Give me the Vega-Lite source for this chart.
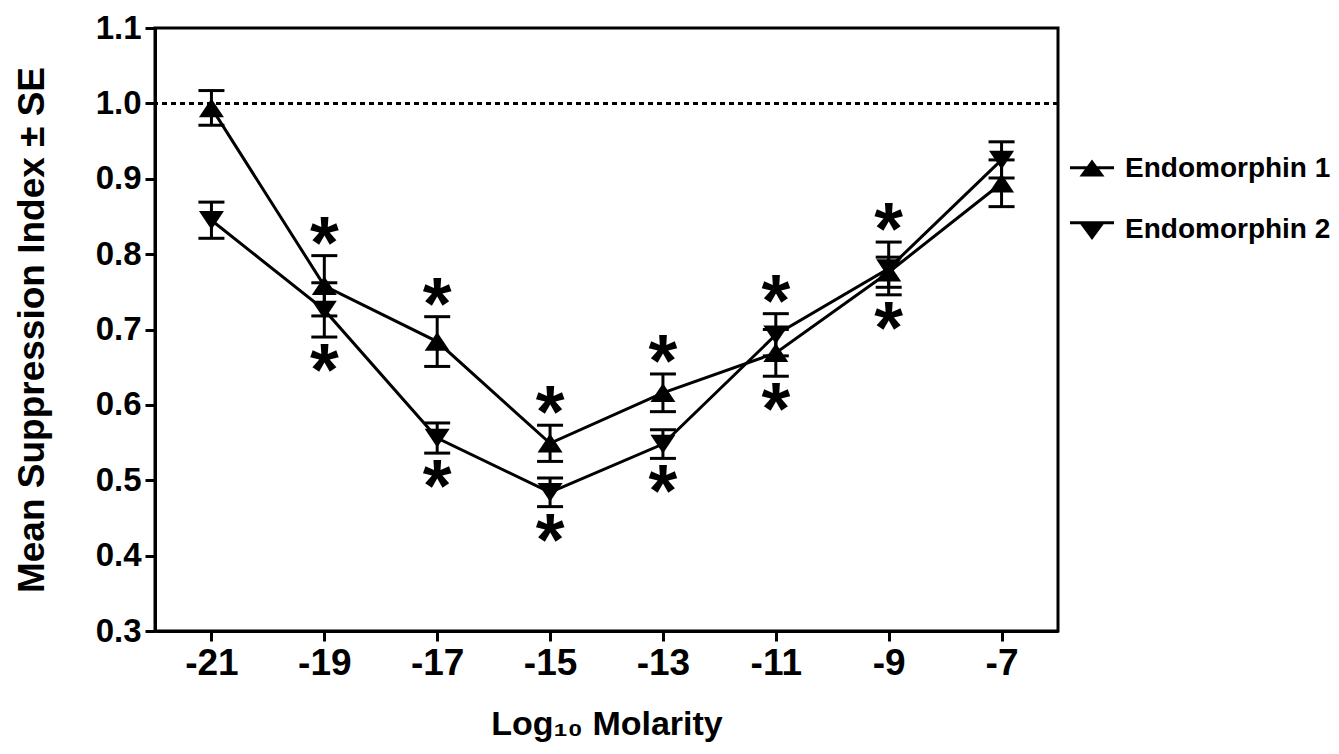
{
  "$schema": "https://vega.github.io/schema/vega-lite/v6.json",
  "autosize": "none",
  "width": 903,
  "height": 603,
  "padding": {"left": 155, "top": 28, "right": 281, "bottom": 123},
  "background": "white",
  "config": {
    "view": {"stroke": "black", "strokeWidth": 3},
    "font": "Liberation Sans",
    "axis": {"grid": false, "domainColor": "black", "domainWidth": 3, "tickColor": "black", "tickWidth": 3, "tickSize": 10, "labelColor": "black", "labelFont": "Liberation Sans", "labelFontWeight": "bold", "titleFont": "Liberation Sans", "titleFontWeight": "bold", "titleColor": "black"}
  },
  "data": {"values": [
    {"molarity": -21, "series": "Endomorphin 1", "mean": 0.994, "lo": 0.971, "hi": 1.017, "sig": ""},
    {"molarity": -19, "series": "Endomorphin 1", "mean": 0.758, "lo": 0.718, "hi": 0.798, "sig": "*"},
    {"molarity": -17, "series": "Endomorphin 1", "mean": 0.684, "lo": 0.651, "hi": 0.717, "sig": "*"},
    {"molarity": -15, "series": "Endomorphin 1", "mean": 0.549, "lo": 0.525, "hi": 0.573, "sig": "*"},
    {"molarity": -13, "series": "Endomorphin 1", "mean": 0.616, "lo": 0.591, "hi": 0.641, "sig": "*"},
    {"molarity": -11, "series": "Endomorphin 1", "mean": 0.669, "lo": 0.638, "hi": 0.700, "sig": "*"},
    {"molarity": -9, "series": "Endomorphin 1", "mean": 0.776, "lo": 0.756, "hi": 0.796, "sig": "*"},
    {"molarity": -7, "series": "Endomorphin 1", "mean": 0.894, "lo": 0.863, "hi": 0.925, "sig": ""},
    {"molarity": -21, "series": "Endomorphin 2", "mean": 0.845, "lo": 0.821, "hi": 0.869, "sig": ""},
    {"molarity": -19, "series": "Endomorphin 2", "mean": 0.726, "lo": 0.690, "hi": 0.762, "sig": "*"},
    {"molarity": -17, "series": "Endomorphin 2", "mean": 0.556, "lo": 0.536, "hi": 0.576, "sig": "*"},
    {"molarity": -15, "series": "Endomorphin 2", "mean": 0.484, "lo": 0.465, "hi": 0.503, "sig": "*"},
    {"molarity": -13, "series": "Endomorphin 2", "mean": 0.548, "lo": 0.529, "hi": 0.567, "sig": "*"},
    {"molarity": -11, "series": "Endomorphin 2", "mean": 0.693, "lo": 0.665, "hi": 0.721, "sig": "*"},
    {"molarity": -9, "series": "Endomorphin 2", "mean": 0.781, "lo": 0.746, "hi": 0.816, "sig": "*"},
    {"molarity": -7, "series": "Endomorphin 2", "mean": 0.925, "lo": 0.901, "hi": 0.949, "sig": ""}
  ]},
  "encoding": {
    "x": {"field": "molarity", "type": "quantitative", "scale": {"domain": [-22, -6], "nice": false, "zero": false},
      "axis": {"values": [-21, -19, -17, -15, -13, -11, -9, -7], "labelExpr": "replace(datum.label, '\u2212', '-')", "labelFontSize": 37, "labelPadding": 4,
        "title": "Log\u2081\u2080 Molarity", "titleFontSize": 34, "titlePadding": 26}},
    "y": {"field": "mean", "type": "quantitative", "scale": {"domain": [0.3, 1.1], "nice": false, "zero": false},
      "axis": {"values": [0.3, 0.4, 0.5, 0.6, 0.7, 0.8, 0.9, 1.0, 1.1], "format": ".1f", "labelFontSize": 33, "labelPadding": 4,
        "title": "Mean Suppression Index \u00b1 SE", "titleFontSize": 37, "titlePadding": 44}}
  },
  "layer": [
    {"mark": {"type": "rule", "strokeDash": [5, 4], "strokeWidth": 2, "color": "black"}, "encoding": {"y": {"datum": 1.0}, "x": null}},
    {"mark": {"type": "rule", "strokeWidth": 3, "color": "black"}, "encoding": {"y": {"field": "lo", "type": "quantitative"}, "y2": {"field": "hi"}}},
    {"mark": {"type": "tick", "orient": "horizontal", "size": 26, "thickness": 3, "color": "black", "opacity": 1}, "encoding": {"y": {"field": "lo", "type": "quantitative"}}},
    {"mark": {"type": "tick", "orient": "horizontal", "size": 26, "thickness": 3, "color": "black", "opacity": 1}, "encoding": {"y": {"field": "hi", "type": "quantitative"}}},
    {"mark": {"type": "line", "strokeWidth": 3, "color": "black"}, "encoding": {"detail": {"field": "series", "type": "nominal"}}},
    {"mark": {"type": "point", "filled": true, "color": "black", "opacity": 1, "size": 625},
      "encoding": {"shape": {"field": "series", "type": "nominal", "scale": {"domain": ["Endomorphin 1", "Endomorphin 2"], "range": ["M0,-0.76L1,0.74L-1,0.74Z", "M0,0.76L-1,-0.74L1,-0.74Z"]}, "legend": null}}},
    {"transform": [{"filter": "datum.sig == '*'"}, {"aggregate": [{"op": "max", "field": "hi", "as": "top"}, {"op": "min", "field": "lo", "as": "bottom"}, {"op": "max", "field": "sig", "as": "star"}], "groupby": ["molarity"]}],
      "mark": {"type": "text", "fontSize": 74, "fontWeight": "bold", "color": "black", "baseline": "alphabetic", "dy": 12},
      "encoding": {"y": {"field": "top", "type": "quantitative"}, "text": {"field": "star"}}},
    {"transform": [{"filter": "datum.sig == '*'"}, {"aggregate": [{"op": "max", "field": "hi", "as": "top"}, {"op": "min", "field": "lo", "as": "bottom"}, {"op": "max", "field": "sig", "as": "star"}], "groupby": ["molarity"]}],
      "mark": {"type": "text", "fontSize": 74, "fontWeight": "bold", "color": "black", "baseline": "alphabetic", "dy": 58},
      "encoding": {"y": {"field": "bottom", "type": "quantitative"}, "text": {"field": "star"}}},
    {"transform": [{"filter": "false"}],
      "mark": {"type": "point", "filled": true, "color": "black", "opacity": 1},
      "encoding": {"shape": {"field": "series", "type": "nominal",
        "scale": {"domain": ["Endomorphin 1", "Endomorphin 2"], "range": ["M-1.76,-0.22H1.76V0.02H-1.76ZM0,-0.76L1,0.6L-1,0.6Z", "M-1.76,-0.7H1.76V-0.46H-1.76ZM0,0.8L-1,-0.56L1,-0.56Z"]},
        "legend": {"title": null, "orient": "none", "legendX": 923, "legendY": 127, "symbolSize": 625, "symbolStrokeWidth": 0, "symbolFillColor": "black", "labelFontSize": 28, "labelFont": "Liberation Sans", "labelFontWeight": "bold", "labelColor": "black", "labelLimit": 0, "rowPadding": 33, "labelOffset": 19,
          "encode": {"symbols": {"update": {"opacity": {"value": 1}, "fill": {"value": "black"}, "fillOpacity": {"value": 1}}}}}}}}
  ],
  "resolve": {"scale": {"shape": "independent"}}
}
